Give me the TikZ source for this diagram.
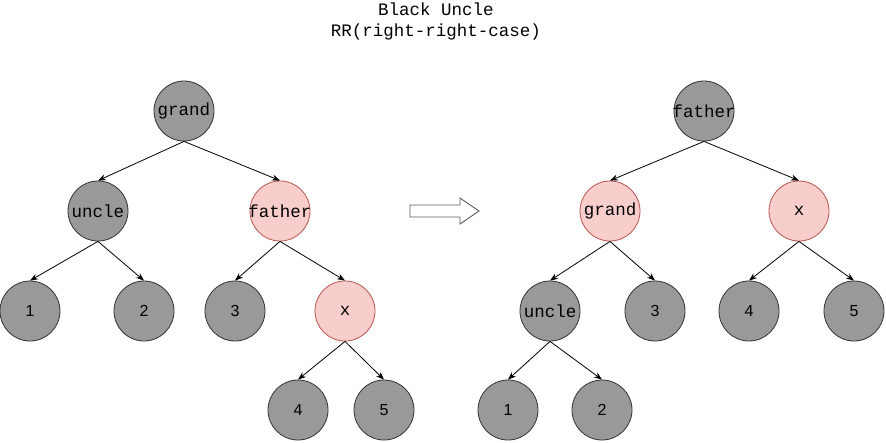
\documentclass[tikz,border=0pt]{standalone}
\usepackage{fontspec}
\setmonofont{Liberation Mono}
\setsansfont{Liberation Sans}
\usetikzlibrary{arrows.meta}
\definecolor{rbgray}{HTML}{999999}
\definecolor{rbedge}{HTML}{333333}
\definecolor{rbpink}{HTML}{F8CECC}
\definecolor{rbred}{HTML}{B85450}
\newcommand{\tname}[1]{\makebox[0pt]{\ttfamily\fontsize{17.5}{20}\selectfont #1}}
\newcommand{\tnum}[1]{\makebox[0pt]{\sffamily\fontsize{16}{18}\selectfont #1}}

\begin{document}
\begin{tikzpicture}[x=1pt, y=-1pt,
    blacknode/.style={circle, draw=rbedge, fill=rbgray, line width=0.8pt, minimum size=60pt, inner sep=0pt},
    rednode/.style={circle, draw=rbred, fill=rbpink, line width=0.8pt, minimum size=60pt, inner sep=0pt},
    link/.style={-{Stealth[length=8pt, width=6pt]}, line width=0.8pt}]
  \useasboundingbox (0,0) rectangle (886,442);
  \node[align=center, font=\ttfamily\fontsize{17.5}{21}\selectfont] (title) at (436,21) {Black Uncle\\RR(right-right-case)};

  % before rotation
  \node[blacknode] (grandL) at (184,111) {\tname{grand}};
  \node[blacknode] (uncleL) at (98,211) {\tname{uncle}};
  \node[rednode] (fatherL) at (280,211) {\tname{father}};
  \node[blacknode] (oneL) at (30,311) {\tnum{1}};
  \node[blacknode] (twoL) at (144,311) {\tnum{2}};
  \node[blacknode] (threeL) at (235,311) {\tnum{3}};
  \node[rednode] (xL) at (345,311) {\tname{x}};
  \node[blacknode] (fourL) at (298,410) {\tnum{4}};
  \node[blacknode] (fiveL) at (384,410) {\tnum{5}};
  \draw[link] (grandL.south) -- (uncleL.north);
  \draw[link] (grandL.south) -- (fatherL.north);
  \draw[link] (uncleL.south) -- (oneL.north);
  \draw[link] (uncleL.south) -- (twoL.north);
  \draw[link] (fatherL.south) -- (threeL.north);
  \draw[link] (fatherL.south) -- (xL.north);
  \draw[link] (xL.south) -- (fourL.north);
  \draw[link] (xL.south) -- (fiveL.north);

  % block arrow
  \draw[line width=0.9pt, draw=rbedge!80, fill=white] (410,205) -- (460,205) -- (460,198) -- (479,211)
    -- (460,224) -- (460,217) -- (410,217) -- cycle;

  % after rotation
  \node[blacknode] (fatherR) at (704,111) {\tname{father}};
  \node[rednode] (grandR) at (610,211) {\tname{grand}};
  \node[rednode] (xR) at (799,211) {\tname{x}};
  \node[blacknode] (uncleR) at (550,311) {\tname{uncle}};
  \node[blacknode] (threeR) at (655,311) {\tnum{3}};
  \node[blacknode] (fourR) at (749,311) {\tnum{4}};
  \node[blacknode] (fiveR) at (854,311) {\tnum{5}};
  \node[blacknode] (oneR) at (508,410) {\tnum{1}};
  \node[blacknode] (twoR) at (602,410) {\tnum{2}};
  \draw[link] (fatherR.south) -- (grandR.north);
  \draw[link] (fatherR.south) -- (xR.north);
  \draw[link] (grandR.south) -- (uncleR.north);
  \draw[link] (grandR.south) -- (threeR.north);
  \draw[link] (xR.south) -- (fourR.north);
  \draw[link] (xR.south) -- (fiveR.north);
  \draw[link] (uncleR.south) -- (oneR.north);
  \draw[link] (uncleR.south) -- (twoR.north);
\end{tikzpicture}
\end{document}
